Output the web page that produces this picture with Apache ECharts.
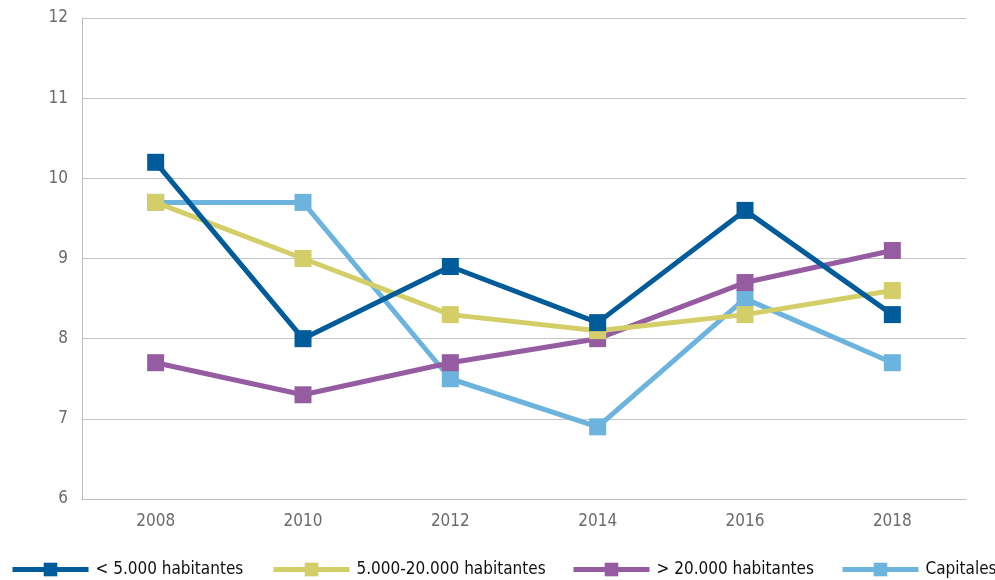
<!DOCTYPE html>
<html><head><meta charset="utf-8">
<script src="https://cdn.jsdelivr.net/npm/echarts@6/dist/echarts.min.js"></script>
<style>html,body{margin:0;padding:0;background:#fff}#c{width:995px;height:580px}</style>
</head><body><div id="c"></div>
<script>
const categories = ['2008','2010','2012','2014','2016','2018'];
const seriesNames = ['< 5.000 habitantes','5.000-20.000 habitantes','> 20.000 habitantes','Capitales'];
const small = [10.2, 8.0, 8.9, 8.2, 9.6, 8.3];
const medium = [9.7, 9.0, 8.3, 8.1, 8.3, 8.6];
const large = [7.7, 7.3, 7.7, 8.0, 8.7, 9.1];
const capitals = [9.7, 9.7, 7.5, 6.9, 8.5, 7.7];
const yTicks = [6, 7, 8, 9, 10, 11, 12];

const colors = ['#005b9a', '#d4ce69', '#955ca2', '#6cb4dd'];
const values = [small, medium, large, capitals];
const zs = [8, 7, 6, 5];
const FONT = '"DejaVu Sans Condensed", "Liberation Sans Narrow", sans-serif';
const legendLeft = [10, 271, 571, 840];

const chart = echarts.init(document.getElementById('c'), null, {renderer: 'canvas'});
chart.setOption({
  animation: false,
  textStyle: {fontFamily: FONT},
  grid: {left: 82, right: 29, top: 18, bottom: 81},
  legend: seriesNames.map((n, i) => ({
    data: [n],
    left: legendLeft[i],
    top: 561,
    padding: 0,
    itemWidth: 76,
    itemHeight: 17,
    itemGap: 0,
    lineStyle: {width: 5},
    textStyle: {fontFamily: FONT, fontSize: 17, color: '#111', padding: [0, 0, 0, 2]}
  })),
  xAxis: {
    type: 'category',
    data: categories,
    boundaryGap: true,
    axisLine: {lineStyle: {color: '#bdbdbd', width: 1}},
    axisTick: {show: false},
    axisLabel: {color: '#6b6b6b', fontSize: 17, fontFamily: FONT, margin: 14}
  },
  yAxis: {
    type: 'value',
    min: yTicks[0],
    max: yTicks[yTicks.length - 1],
    interval: 1,
    axisLine: {show: true, lineStyle: {color: '#bdbdbd', width: 1}},
    axisTick: {show: false},
    splitLine: {lineStyle: {color: '#c4c4c4', width: 1}},
    axisLabel: {color: '#6b6b6b', fontSize: 17, fontFamily: FONT, margin: 14}
  },
  series: seriesNames.map((n, i) => ({
    name: n,
    type: 'line',
    data: values[i],
    z: zs[i],
    symbol: 'rect',
    symbolSize: 17,
    showAllSymbol: true,
    color: colors[i],
    lineStyle: {color: colors[i], width: 5},
    itemStyle: {color: colors[i]}
  }))
});
</script></body></html>
